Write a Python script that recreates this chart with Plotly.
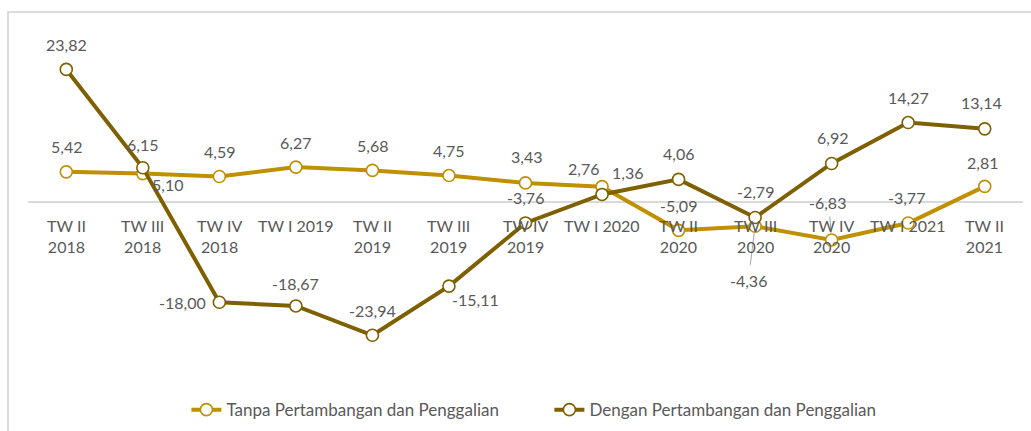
import plotly.graph_objects as go

categories = ["TW II<br>2018", "TW III<br>2018", "TW IV<br>2018", "TW I 2019", "TW II<br>2019",
              "TW III<br>2019", "TW IV<br>2019", "TW I 2020", "TW II<br>2020", "TW III<br>2020",
              "TW IV<br>2020", "TW I 2021", "TW II<br>2021"]
tanpa = [5.42, 5.10, 4.59, 6.27, 5.68, 4.75, 3.43, 2.76, -5.09, -4.36, -6.83, -3.77, 2.81]
dengan = [23.82, 6.15, -18.00, -18.67, -23.94, -15.11, -3.76, 1.36, 4.06, -2.79, 6.92, 14.27, 13.14]
series_names = ["Tanpa Pertambangan dan Penggalian", "Dengan Pertambangan dan Penggalian"]

# label offsets in pixels (style only)
tanpa_off = [(0, 25), (25, -11), (0, 25), (0, 25), (0, 25), (0, 25), (1, 26), (-19, 18),
             (0, 25), (-7, -54), (-4, 38), (-2, 25), (-2, 24)]
dengan_off = [(0, 25), (0, 23), (-37, 0), (0, 22), (0, 25), (27, -13), (0, 25), (25, 22),
              (0, 26), (0, 26), (1, 26), (0, 25), (-3, 26)]

gold = "#BF9000"
brown = "#7F6000"
txt = "#595959"
fnt = "Lato, 'Open Sans', sans-serif"

x = list(range(len(categories)))
fig = go.Figure()
for name, vals, col in [(series_names[0], tanpa, gold), (series_names[1], dengan, brown)]:
    fig.add_trace(go.Scatter(
        x=x, y=vals, mode="lines+markers", name=name,
        line=dict(color=col, width=4),
        marker=dict(symbol="circle", size=12, color="white", line=dict(color=col, width=1.6)),
    ))

ann = []
for vals, offs in [(tanpa, tanpa_off), (dengan, dengan_off)]:
    for i, (v, (dx, dy)) in enumerate(zip(vals, offs)):
        ann.append(dict(x=i, y=v, xref="x", yref="y", text=f"{v:.2f}".replace(".", ","),
                        showarrow=False, xshift=dx, yshift=dy,
                        font=dict(family=fnt, size=16, color=txt)))
# leader lines
ann.append(dict(x=9, y=tanpa[9], xref="x", yref="y", ax=-5, ay=40, text="", showarrow=True,
                arrowhead=0, arrowwidth=1, arrowcolor="#A6A6A6", standoff=3))
ann.append(dict(x=10, y=tanpa[10], xref="x", yref="y", ax=-2, ay=-25, text="", showarrow=True,
                arrowhead=0, arrowwidth=1, arrowcolor="#A6A6A6", standoff=7))
for i, c in enumerate(categories):
    ann.append(dict(x=i, y=0, xref="x", yref="y", text=c, showarrow=False, yanchor="top",
                    yshift=-12, font=dict(family=fnt, size=16, color=txt)))

fig.update_layout(
    width=1031, height=431,
    margin=dict(l=28, r=8, t=35, b=62, autoexpand=False),
    paper_bgcolor="white", plot_bgcolor="white",
    font=dict(family=fnt, color=txt),
    showlegend=True,
    legend=dict(orientation="h", x=0.524, xanchor="center", y=-0.123, yanchor="middle",
                font=dict(family=fnt, size=17, color=txt), itemwidth=30,
                entrywidth=318, entrywidthmode="pixels", tracegroupgap=0),
    xaxis=dict(range=[-0.5, 12.5], showgrid=False, zeroline=False, showticklabels=False,
               showline=False, fixedrange=True),
    yaxis=dict(range=[-30, 30], showgrid=False, zeroline=True, zerolinecolor="#D9D9D9",
               zerolinewidth=1.5, showticklabels=False, showline=False),
    annotations=ann,
    shapes=[dict(type="rect", xref="paper", yref="paper", x0=-0.0201, x1=1.1, y0=-0.5, y1=1.069,
                 line=dict(color="#D0D0D0", width=1.5), fillcolor="rgba(0,0,0,0)", layer="below")],
)
fig.write_html("out.html", config={"displayModeBar": False},
               post_script="document.body.style.margin='0';document.body.style.overflow='hidden';")
